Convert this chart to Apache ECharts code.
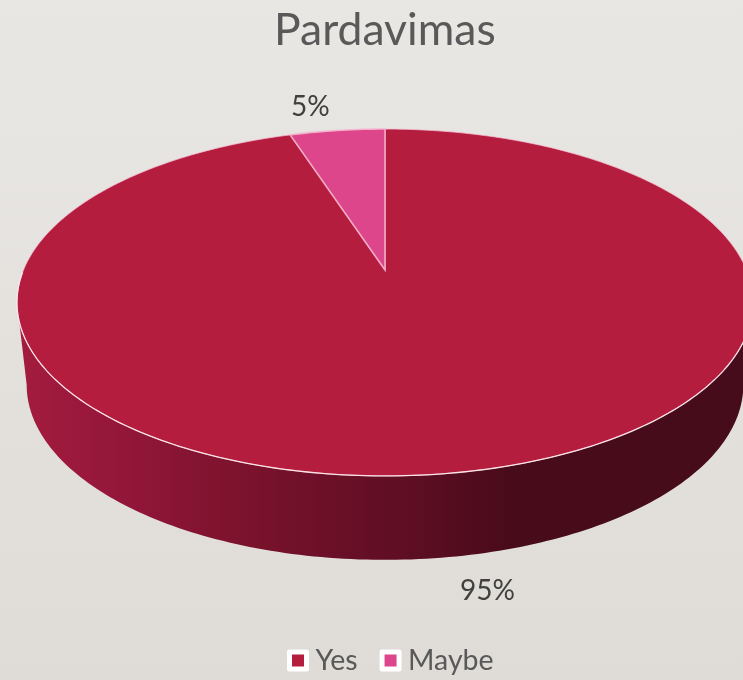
<!DOCTYPE html>
<html>
<head>
<meta charset="utf-8">
<style>html,body{margin:0;padding:0;background:#e4e2de}#c{width:743px;height:680px}</style>
<script src="https://cdn.jsdelivr.net/npm/echarts@6/dist/echarts.min.js"></script>
</head>
<body>
<div id="c"></div>
<script>
var titleText = 'Pardavimas';
var categories = ['Yes', 'Maybe'];
var shares = [95, 5];
var sliceColors = ['#b51d3f', '#dd468b'];

// Perspective projection of the pie disc (top face and bottom rim)
var view = { cx: 385, c: 0.1873, top: { R: 361.5, a: -116.8, b: 270 }, bottom: { R: 352, a: -103, b: 352 } };
var labelOffsets = [[35, 34], [-27, -24]];
var total = shares.reduce(function (s, v) { return s + v; }, 0);

function project(face, deg) {
  var t = deg * Math.PI / 180, u = Math.sin(t), v = Math.cos(t), w = 1 + view.c * v;
  return [view.cx + face.R * u / w, (face.a * v + face.b) / w];
}
function arc(face, from, to) {
  var pts = [], n = Math.max(2, Math.ceil(Math.abs(to - from) / 1));
  for (var i = 0; i <= n; i++) pts.push(project(face, from + (to - from) * i / n));
  return pts;
}
function renderSlice(index) {
  return function (params, api) {
    var value = api.value(0);
    var start = 0;
    for (var i = 0; i < index; i++) start += shares[i] / total * 360;
    var end = start + value / total * 360;
    var apex = [view.cx, view.top.b];
    var children = [];
    if (index === 0) {
      var tangent = Math.acos(-view.c) * 180 / Math.PI;
      var rimTop = arc(view.top, tangent, 360 - tangent);
      var rimBottom = arc(view.bottom, 360 - tangent, tangent);
      children.push({
        type: 'polygon', shape: { points: rimTop.concat(rimBottom) },
        style: {
          fill: new echarts.graphic.LinearGradient(0, 0, 1, 0, [
            { offset: 0, color: '#a41c3e' },
            { offset: 0.12, color: '#96173a' },
            { offset: 0.28, color: '#7f132e' },
            { offset: 0.42, color: '#6c1027' },
            { offset: 0.56, color: '#5a0d21' },
            { offset: 0.68, color: '#470b1a' },
            { offset: 1, color: '#470c1b' }
          ])
        }
      });
    }
    children.push({
      type: 'polygon', shape: { points: [apex].concat(arc(view.top, start, end)) },
      style: { fill: sliceColors[index], stroke: index === 1 ? 'rgba(245,180,205,0.9)' : 'rgba(245,190,210,0.75)', lineWidth: index === 1 ? 1.6 : 1 }
    });
    if (index === 0) {
      var t2 = Math.acos(-view.c) * 180 / Math.PI;
      children.push({
        type: 'polyline', shape: { points: arc(view.top, t2 - 10, 370 - t2) },
        style: { fill: 'none', stroke: 'rgba(255,240,240,0.85)', lineWidth: 1.3 }
      });
    }
    var mid = (start + end) / 2;
    var face = (Math.cos(mid * Math.PI / 180) < 0) ? view.bottom : view.top;
    var anchor = project(face, mid);
    children.push({
      type: 'text',
      style: {
        x: anchor[0] + labelOffsets[index][0], y: anchor[1] + labelOffsets[index][1],
        text: Math.round(value / total * 100) + '%',
        fill: '#404040', font: '28px Lato', align: 'center', verticalAlign: 'middle'
      }
    });
    return { type: 'group', children: children };
  };
}

var chart = echarts.init(document.getElementById('c'));
chart.setOption({
  animation: false,
  backgroundColor: new echarts.graphic.LinearGradient(0, 0, 0, 1, [
    { offset: 0, color: '#e9e7e4' },
    { offset: 1, color: '#dfdcd7' }
  ]),
  title: {
    text: titleText, left: 269, top: 3,
    textStyle: { color: '#595959', fontFamily: 'Lato', fontSize: 44.5, fontWeight: 'normal' }
  },
  legend: {
    left: 282, top: 641, itemWidth: 17, itemHeight: 17, itemGap: 22,
    data: categories.map(function (n) {
      return { name: n, icon: 'rect', itemStyle: { borderColor: '#ffffff', borderWidth: 5, borderJoin: 'round' } };
    }),
    textStyle: { color: '#595959', fontFamily: 'Lato', fontSize: 28.5, padding: [0, 0, 0, 4] }
  },
  series: categories.map(function (n, i) {
    return {
      type: 'custom', name: n, coordinateSystem: 'none', silent: true,
      itemStyle: { color: sliceColors[i] },
      data: [[shares[i]]],
      renderItem: renderSlice(i)
    };
  })
});
</script>
</body>
</html>
